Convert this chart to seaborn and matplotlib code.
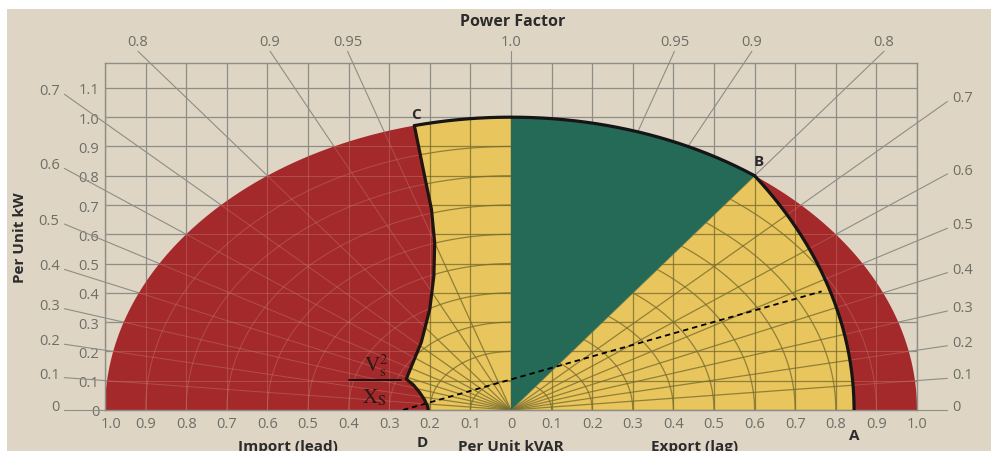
import numpy as np
import matplotlib
matplotlib.use("Agg")
import matplotlib.pyplot as plt
import matplotlib.transforms as mtransforms
from matplotlib.patches import Polygon, Rectangle
from matplotlib.collections import LineCollection
import seaborn as sns

# ---------------- data ----------------
kvar_ticks = [-1.0, -0.9, -0.8, -0.7, -0.6, -0.5, -0.4, -0.3, -0.2, -0.1, 0.0,
              0.1, 0.2, 0.3, 0.4, 0.5, 0.6, 0.7, 0.8, 0.9, 1.0]
kvar_labels = ["1.0", "0.9", "0.8", "0.7", "0.6", "0.5", "0.4", "0.3", "0.2", "0.1", "0",
               "0.1", "0.2", "0.3", "0.4", "0.5", "0.6", "0.7", "0.8", "0.9", "1.0"]
kw_ticks = [0.0, 0.1, 0.2, 0.3, 0.4, 0.5, 0.6, 0.7, 0.8, 0.9, 1.0, 1.1]
kw_labels = ["0", "0.1", "0.2", "0.3", "0.4", "0.5", "0.6", "0.7", "0.8", "0.9", "1.0", "1.1"]

pf_side = [0.0, 0.1, 0.2, 0.3, 0.4, 0.5, 0.6, 0.7]          # labelled at the sides
pf_side_labels = ["0", "0.1", "0.2", "0.3", "0.4", "0.5", "0.6", "0.7"]
pf_top = [0.8, 0.9, 0.95, 1.0]                            # labelled at the top
pf_top_labels = ["0.8", "0.9", "0.95", "1.0"]

mva_rating = 1.0
mva_rings = [0.1, 0.2, 0.3, 0.4, 0.5, 0.6, 0.7, 0.8, 0.9]

point_B = (0.6, 0.8)      # armature / field limit corner (0.8 pf lag)
point_A = (0.845, 0.0)    # field limit at zero kW

# under-excitation limit curve C -> D (kVAR, kW)
uel_kvar = [-0.238, -0.213, -0.196, -0.188, -0.190, -0.200, -0.221, -0.258,
            -0.240, -0.225, -0.213, -0.206, -0.204]
uel_kw = [0.971, 0.80, 0.686, 0.572, 0.458, 0.345, 0.231, 0.106,
          0.085, 0.060, 0.035, 0.015, 0.0]

dashed_kvar = [-0.266, 0.765]
dashed_kw = [0.0, 0.405]

# ---------------- style ----------------
sns.set_theme(style="white")
plt.rcParams["font.family"] = ["Open Sans", "DejaVu Sans"]
plt.rcParams["mathtext.fontset"] = "stix"

BG = "#DED5C5"
RED = "#A4292A"
YEL = "#E8C55D"
GRN = "#246A56"
GRID = "#8E8E86"
TXT = "#6E6E66"
DARK = "#2B2B2B"

fig = plt.figure(figsize=(9.91, 4.52), dpi=100)
fig.patch.set_facecolor("white")
fig.add_artist(Rectangle((7 / 991, 0), 1, (452 - 10) / 452, transform=fig.transFigure,
                         facecolor=BG, edgecolor="none", zorder=-10))
ax = fig.add_axes([105 / 991, 41 / 452, 812 / 991, 347 / 452])
ax.set_facecolor("none")
ax.set_xlim(-1.0, 1.0)
ax.set_ylim(0, 1.185)

# grid
ax.set_xticks(kvar_ticks)
ax.set_xticklabels(kvar_labels)
ax.set_yticks(kw_ticks)
ax.set_yticklabels(kw_labels)
ax.tick_params(length=0, labelsize=10.5, labelcolor=TXT, pad=4)
ax.set_axisbelow(True)
ax.grid(True, color=GRID, lw=0.9)
for s in ax.spines.values():
    s.set_color(GRID)
    s.set_linewidth(1.0)
    s.set_visible(True)

# nudge the first kVAR label right so it clears the kW "0"
first = ax.get_xticklabels()[0]
first.set_transform(first.get_transform() +
                    mtransforms.ScaledTranslation(6 / 100, 0, fig.dpi_scale_trans))

# ---------------- geometry ----------------
R = mva_rating
C = (uel_kvar[0], uel_kw[0])
D = (uel_kvar[-1], uel_kw[-1])
th_C = np.arctan2(C[1], C[0])
th_B = np.arctan2(point_B[1], point_B[0])


def arc(r, t0, t1, n=200, cq=0.0):
    t = np.linspace(t0, t1, n)
    return np.column_stack([cq + r * np.cos(t), r * np.sin(t)])


# field-limit circle through B and A, centred on the kVAR axis
fc = (point_B[0] ** 2 + point_B[1] ** 2 - point_A[0] ** 2) / (2 * (point_A[0] - point_B[0]))
fr = point_A[0] + fc
tf_B = np.arctan2(point_B[1], point_B[0] + fc)
field_arc = arc(fr, tf_B, 0.0, cq=-fc)

uel = np.column_stack([uel_kvar, uel_kw])


def pf_angle(pf):
    return np.arccos(pf) if pf < 1 else 0.0


# power factor lines (drawn under the fills, extend to their labels)
for pf, lab in zip(pf_side, pf_side_labels):
    tanphi = pf / np.sqrt(1 - pf ** 2)
    for sgn, qend in ((-1, -1.1), (1, 1.075)):
        pend = abs(qend) * tanphi
        ax.plot([0, qend], [0, pend], color=GRID, lw=0.8, zorder=0.6, clip_on=False)
        ax.text(qend + sgn * 0.012, pend + 0.012, lab, ha="left" if sgn > 0 else "right",
                va="center", fontsize=10.5, color=TXT, clip_on=False)
for pf, lab in zip(pf_top, pf_top_labels):
    pend = 1.225
    qend = pend * np.tan(pf_angle(pf))
    sides = (-1, 1) if pf < 1 else (1,)
    for sgn in sides:
        ax.plot([0, sgn * qend], [0, pend], color=GRID, lw=0.8, zorder=0.6, clip_on=False)
        ax.text(sgn * qend, pend + 0.008, lab, ha="center", va="bottom",
                fontsize=10.5, color=TXT, clip_on=False)

# ---------------- regions ----------------
red_left = np.vstack([arc(R, th_C, np.pi), [[D[0], D[1]]], uel[::-1]])
yel_left = np.vstack([uel, [[0, 0], [0, R]], arc(R, np.pi / 2, th_C)])
green = np.vstack([[[0, 0]], arc(R, np.pi / 2, th_B), [[0, 0]]])
yel_right = np.vstack([[[0, 0]], field_arc, [[0, 0]]])
red_right = np.vstack([arc(R, th_B, 0.0), [[point_A[0], 0]], field_arc[::-1]])

patches = {}
for name, poly, col in (("rl", red_left, RED), ("yl", yel_left, YEL),
                        ("yr", yel_right, YEL), ("rr", red_right, RED)):
    p = Polygon(poly, closed=True, facecolor=col, edgecolor="none", zorder=1)
    ax.add_patch(p)
    patches[name] = p

# overlay chart lines seen through the coloured areas
segs = []
for q in np.arange(-0.9, 0.95, 0.1):
    segs.append(np.array([[q, 0], [q, 1.1]]))
for pk in np.arange(0.1, 1.05, 0.1):
    segs.append(np.array([[-1, pk], [1, pk]]))
for r in mva_rings:
    segs.append(arc(r, 0, np.pi))
for pf in pf_side + pf_top:
    a = np.pi / 2 - pf_angle(pf)
    for sgn in (-1, 1):
        segs.append(np.array([[0, 0], [sgn * R * np.cos(a), R * np.sin(a)]]))

for name, col, alpha, lw in (("yl", "#7A6E2E", 0.8, 0.9), ("yr", "#7A6E2E", 0.8, 0.9),
                             ("rl", "#C07A70", 0.45, 0.7), ("rr", "#C07A70", 0.45, 0.7)):
    lc = LineCollection(segs, colors=col, alpha=alpha, linewidths=lw, zorder=1.5,
                        transform=ax.transData)
    lc.set_clip_path(patches[name])
    ax.add_collection(lc)

ax.add_patch(Polygon(green, closed=True, facecolor=GRN, edgecolor="none", zorder=2))

# ---------------- limit curves ----------------
sns.lineplot(x=dashed_kvar, y=dashed_kw, ax=ax, color="black", lw=1.3,
             linestyle=(0, (3, 2.2)), zorder=3, sort=False, estimator=None)
top_arc = arc(R, th_C, th_B)
sns.lineplot(x=top_arc[:, 0], y=top_arc[:, 1], ax=ax, color="#151515", lw=2.3,
             zorder=3.5, sort=False, estimator=None)
sns.lineplot(x=field_arc[:, 0], y=field_arc[:, 1], ax=ax, color="#151515", lw=2.3,
             zorder=3.5, sort=False, estimator=None)
sns.lineplot(x=uel[:, 0], y=uel[:, 1], ax=ax, color="#201510", lw=2.3,
             zorder=3.5, sort=False, estimator=None)
ax.set_xlim(-1.0, 1.0)
ax.set_ylim(0, 1.185)
ax.set_xlabel("")
ax.set_ylabel("")

# ---------------- annotations ----------------
bold = dict(fontweight="bold", color=DARK, fontsize=11, clip_on=False)
ax.text(C[0] + 0.005, C[1] + 0.015, "C", ha="center", va="bottom", zorder=5, **bold)
ax.text(point_B[0] + 0.01, point_B[1] + 0.028, "B", ha="center", va="bottom", zorder=5, **bold)
ax.text(D[0] - 0.015, -0.085, "D", ha="center", va="top", **bold)
ax.text(point_A[0] + 0.0, -0.062, "A", ha="center", va="top", **bold)
ax.text(-0.55, -0.098, "Import (lead)", ha="center", va="top", **bold)
ax.text(0.0, -0.098, "Per Unit kVAR", ha="center", va="top", **bold)
ax.text(0.453, -0.098, "Export (lag)", ha="center", va="top", **bold)

ax.plot([-0.40, -0.27], [0.102, 0.102], color="#1a1010", lw=1.4, zorder=4)
ax.text(-0.333, 0.155, r"$\mathrm{V}_{\mathrm{s}}^{2}$", ha="center", va="center",
        fontsize=15, color="#2a1a18", zorder=5)
ax.text(-0.338, 0.045, r"$\mathrm{X}_{\mathrm{S}}$", ha="center", va="center",
        fontsize=15, color="#2a1a18", zorder=5)

fig.text(513 / 991, 1 - 22 / 452, "Power Factor", ha="center", va="center",
         fontweight="bold", fontsize=11.5, color=DARK)
fig.text(20 / 991, 1 - 238 / 452, "Per Unit kW", ha="center", va="center",
         rotation=90, fontweight="bold", fontsize=11, color=DARK)

fig.savefig("out.png", dpi=100, facecolor=fig.get_facecolor())
